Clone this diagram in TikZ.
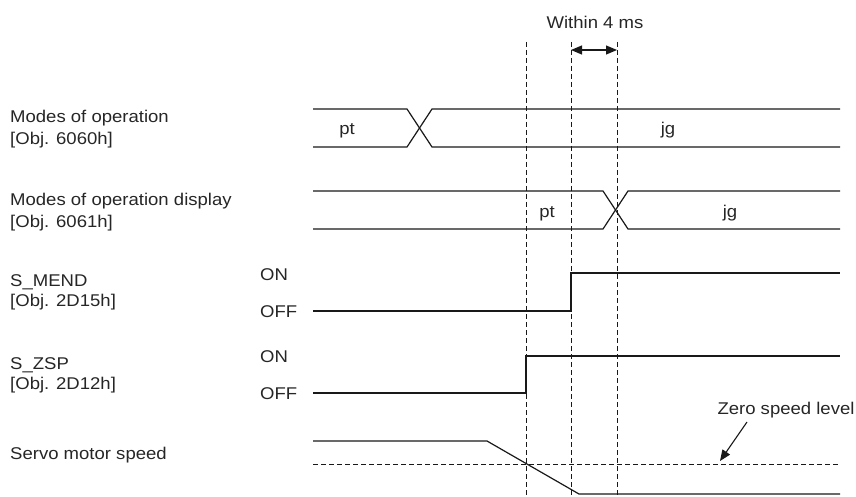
\documentclass[tikz,border=0pt]{standalone}
\usepackage{fontspec}
\setmainfont{Liberation Sans}[FakeStretch=1.09]
\usetikzlibrary{arrows.meta}
\begin{document}
\begin{tikzpicture}[x=1pt,y=-1pt,
  sig/.style={line width=1.2pt, black!90},
  guide/.style={line width=0.9pt, black!90, dash pattern=on 5pt off 3pt},
  lbl/.style={anchor=base west, inner sep=0pt, text=black!85, font=\fontsize{17}{20}\selectfont},
  val/.style={anchor=base, inner sep=0pt, text=black!85, font=\fontsize{17}{20}\selectfont},
  tri/.tip={Triangle[length=11pt,width=9pt]},
  tip/.style={-tri, line width=1.1pt, black!90}]
\useasboundingbox (0,0) rectangle (856,497);
% left labels
\node[lbl] (l1a) at (10,123) {Modes of operation};
\node[lbl] (l1b) at (10,145) {[Obj. 6060h]};
\node[lbl] (l2a) at (10,205) {Modes of operation display};
\node[lbl] (l2b) at (10,227) {[Obj. 6061h]};
\node[lbl] (l3a) at (10,286) {S\_MEND};
\node[lbl] (l3b) at (10,306) {[Obj. 2D15h]};
\node[lbl] (l4a) at (10,369) {S\_ZSP};
\node[lbl] (l4b) at (10,389) {[Obj. 2D12h]};
\node[lbl] (l5) at (10,459) {Servo motor speed};
\node[lbl] (on1) at (260,280) {ON};
\node[lbl] (off1) at (260,317) {OFF};
\node[lbl] (on2) at (260,362) {ON};
\node[lbl] (off2) at (260,399) {OFF};
% guides
\coordinate (g1t) at (526,42); \coordinate (g1b) at (526,497);
\coordinate (g2t) at (571,42); \coordinate (g2b) at (571,497);
\coordinate (g3t) at (617,42); \coordinate (g3b) at (617,497);
\draw[guide] (g1t) -- (g1b);
\draw[guide] (g2t) -- (g2b);
\draw[guide] (g3t) -- (g3b);
\node[val] (within) at (595,29) {Within 4 ms};
\coordinate (w1) at (571,50); \coordinate (w2) at (617,50);
\draw[tri-tri, line width=1.1pt, black!90] (w1) -- (w2);
% modes of operation
\draw[sig] (313,109) -- (407,109) -- (432,147) -- (840,147);
\draw[sig] (313,147) -- (407,147) -- (432,109) -- (840,109);
\node[val] (pt1) at (347,135) {pt};
\node[val] (jg1) at (668,135) {jg};
% display
\draw[sig] (313,191) -- (603,191) -- (628,229) -- (840,229);
\draw[sig] (313,229) -- (603,229) -- (628,191) -- (840,191);
\node[val] (pt2) at (547,217) {pt};
\node[val] (jg2) at (730,217) {jg};
% S_MEND
\draw[sig] (313,311) -- (571,311) -- (571,273) -- (840,273);
% S_ZSP
\draw[sig] (313,393) -- (526,393) -- (526,356) -- (840,356);
% speed
\draw[guide] (313,464) -- (840,464);
\draw[sig] (313,441) -- (487,441) -- (579,494) -- (840,494);
\node[val] (zsl) at (786,414) {Zero speed level};
\coordinate (za) at (747,422); \coordinate (zb) at (720,461);
\draw[tip] (za) -- (zb);
\end{tikzpicture}
\end{document}
